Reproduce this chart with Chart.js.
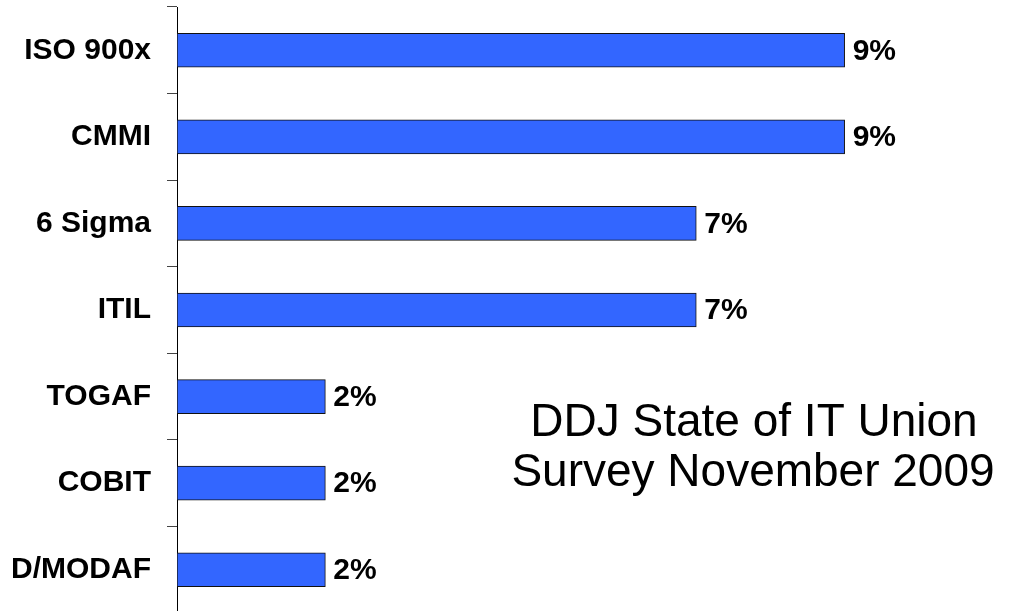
<!DOCTYPE html>
<html lang="en">
<head>
    <meta charset="UTF-8" />
    <title>DDJ State of IT Union Survey</title>
    <script src="https://cdn.jsdelivr.net/npm/chart.js"></script>
    <style>
        html, body {
            margin: 0;
            padding: 0;
            background: #ffffff;
            overflow: hidden;
        }
        .chart-container {
            width: 1016px;
            height: 620px;
        }
    </style>
</head>
<body>
    <div class="chart-container">
        <canvas id="frameworks-chart"></canvas>
    </div>

    <script>
        const categories = ['ISO 900x', 'CMMI', '6 Sigma', 'ITIL', 'TOGAF', 'COBIT', 'D/MODAF'];
        const percentages = [9, 9, 7, 7, 2, 2, 2];
        const noteLines = ['DDJ State of IT Union', 'Survey November 2009'];

        const fontFamily = "Arial, 'Liberation Sans', sans-serif";

        // percent labels right of each bar
        const valueLabels = {
            id: 'valueLabels',
            afterDatasetsDraw(chart) {
                const ctx = chart.ctx;
                const meta = chart.getDatasetMeta(0);
                ctx.save();
                ctx.font = `bold 30px ${fontFamily}`;
                ctx.fillStyle = '#000000';
                ctx.textAlign = 'left';
                ctx.textBaseline = 'middle';
                meta.data.forEach((bar, i) => {
                    ctx.fillText(percentages[i] + '%', bar.x + 8, bar.y + 1);
                });
                ctx.restore();
            }
        };

        // survey note in the lower right
        const surveyNote = {
            id: 'surveyNote',
            afterDraw(chart) {
                const ctx = chart.ctx;
                ctx.save();
                ctx.font = `46px ${fontFamily}`;
                ctx.fillStyle = '#000000';
                ctx.textAlign = 'center';
                ctx.textBaseline = 'alphabetic';
                ctx.fillText(noteLines[0], 754, 436);
                ctx.fillText(noteLines[1], 753, 486);
                ctx.restore();
            }
        };

        const ctx = document.getElementById('frameworks-chart').getContext('2d');
        new Chart(ctx, {
            type: 'bar',
            data: {
                labels: categories,
                datasets: [{
                    data: percentages,
                    backgroundColor: '#3366ff',
                    borderColor: '#111111',
                    borderWidth: 1,
                    borderSkipped: false,
                    barThickness: 34
                }]
            },
            options: {
                indexAxis: 'y',
                responsive: true,
                maintainAspectRatio: false,
                animation: false,
                layout: {
                    padding: { top: 7, bottom: 7, left: 0, right: 0 }
                },
                plugins: {
                    legend: { display: false },
                    tooltip: { enabled: false }
                },
                scales: {
                    x: {
                        display: false,
                        min: 0,
                        max: 11.31
                    },
                    y: {
                        afterFit(scale) {
                            scale.width = 177;
                            scale.paddingTop = 0;
                            scale.paddingBottom = 0;
                        },
                        grid: {
                            drawOnChartArea: false,
                            drawTicks: true,
                            tickLength: 10,
                            color: '#444444',
                            offset: true
                        },
                        border: {
                            display: true,
                            color: '#000000',
                            width: 1
                        },
                        ticks: {
                            color: '#000000',
                            padding: 16,
                            font: { family: fontFamily, size: 30, weight: 'bold' }
                        }
                    }
                }
            },
            plugins: [valueLabels, surveyNote]
        });
    </script>
</body>
</html>
